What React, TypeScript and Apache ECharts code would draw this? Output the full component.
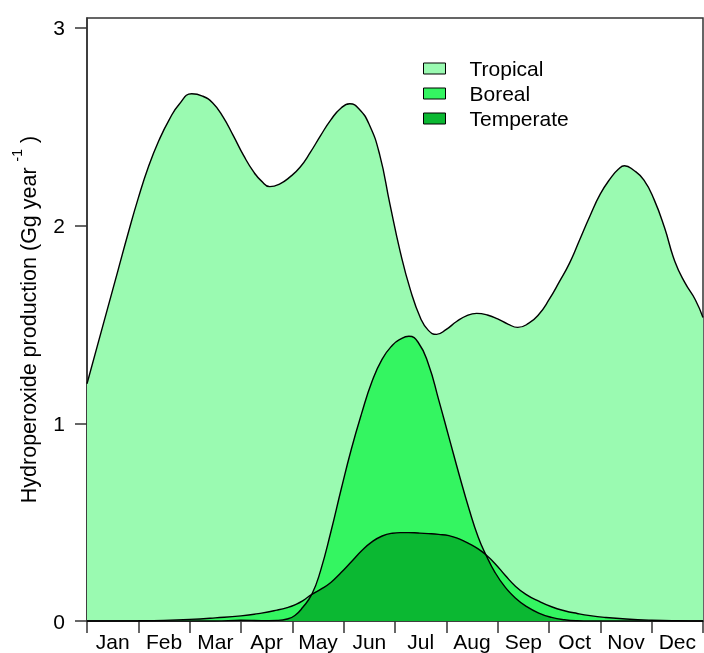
import React, { useEffect, useRef } from "react";
import * as echarts from "echarts";

const months = ["Jan", "Feb", "Mar", "Apr", "May", "Jun", "Jul", "Aug", "Sep", "Oct", "Nov", "Dec"];
const yTicks = [0, 1, 2, 3];

// month position (0 = start of Jan, 12 = end of Dec)
const tropicalX = [0, 0.2, 0.4, 0.6, 0.8, 1.0, 1.2, 1.4, 1.6, 1.8, 2.04, 2.25, 2.45, 2.65, 2.85, 3.05, 3.25, 3.4, 3.56, 3.75, 3.95, 4.15, 4.35, 4.55, 4.75, 4.95, 5.12, 5.3, 5.5, 5.7, 5.9, 6.1, 6.3, 6.5, 6.65, 6.81, 7.0, 7.2, 7.4, 7.59, 7.8, 8.0, 8.2, 8.39, 8.6, 8.8, 9.0, 9.2, 9.4, 9.6, 9.8, 10.0, 10.2, 10.35, 10.47, 10.65, 10.85, 11.05, 11.25, 11.45, 11.65, 11.85, 12.0];
const tropicalV = [1.2, 1.39, 1.58, 1.77, 1.96, 2.14, 2.3, 2.43, 2.535, 2.615, 2.667, 2.655, 2.62, 2.55, 2.455, 2.355, 2.27, 2.225, 2.197, 2.21, 2.245, 2.295, 2.37, 2.455, 2.535, 2.595, 2.616, 2.59, 2.51, 2.36, 2.11, 1.87, 1.675, 1.53, 1.47, 1.45, 1.475, 1.515, 1.545, 1.556, 1.548, 1.528, 1.502, 1.485, 1.505, 1.55, 1.625, 1.715, 1.81, 1.93, 2.05, 2.16, 2.24, 2.285, 2.303, 2.28, 2.23, 2.13, 1.99, 1.82, 1.71, 1.625, 1.535];

const extraX = [0, 1.0, 1.5, 2.0, 2.5, 3.0, 3.4, 3.7, 3.9, 4.05, 4.2, 4.38, 4.55, 4.75, 4.95, 5.15, 5.35, 5.55, 5.75, 5.95, 6.1, 6.27, 6.45, 6.65, 6.85, 7.05, 7.25, 7.45, 7.62, 7.77, 7.95, 8.15, 8.35, 8.55, 8.8, 9.05, 9.3, 9.55, 9.8, 10.1, 10.5, 11.0, 11.5, 12.0];
const borealV = [0, 0, 0, 0, 0, 0.004, 0.002, 0.003, 0.01, 0.028, 0.068, 0.135, 0.255, 0.45, 0.665, 0.87, 1.05, 1.21, 1.325, 1.395, 1.425, 1.44, 1.41, 1.3, 1.12, 0.93, 0.74, 0.56, 0.425, 0.335, 0.245, 0.17, 0.115, 0.075, 0.04, 0.018, 0.006, 0.001, 0, 0, 0, 0, 0, 0];
const temperateV = [0, 0.001, 0.003, 0.008, 0.016, 0.026, 0.04, 0.055, 0.068, 0.082, 0.102, 0.135, 0.16, 0.195, 0.245, 0.3, 0.355, 0.4, 0.43, 0.444, 0.447, 0.447, 0.445, 0.442, 0.438, 0.432, 0.415, 0.39, 0.365, 0.335, 0.29, 0.23, 0.175, 0.135, 0.1, 0.072, 0.052, 0.038, 0.027, 0.018, 0.01, 0.004, 0.001, 0];

const TROP = "#9afab1";
const BOR = "#34f561";
const TEMP = "#0bb832";
const FONT = "'Liberation Sans', Arial, sans-serif";

export default function App() {
  const ref = useRef<HTMLDivElement>(null);
  useEffect(() => {
    if (!ref.current) return;
    const chart = echarts.init(ref.current, undefined, { renderer: "svg" });
    const pairs = (xs: number[], vs: number[]) => xs.map((x, i) => [x, vs[i]]);
    const hi = extraX.map((x, i) => [x, Math.max(borealV[i], temperateV[i])]);
    const lo = extraX.map((x, i) => [x, Math.min(borealV[i], temperateV[i])]);
    const lineStyle = { color: "#000", width: 1.4 };
    const smooth = 0.5;
    chart.setOption({
      animation: false,
      textStyle: { fontFamily: FONT },
      grid: { left: 87, right: 1, top: 18, bottom: 32, show: true, borderColor: "#333", borderWidth: 1.5, backgroundColor: "transparent" },
      legend: {
        orient: "vertical",
        left: 423,
        top: 58,
        padding: 0,
        icon: "rect",
        itemWidth: 22,
        itemHeight: 11,
        itemGap: 4,
        selectedMode: false,
        itemStyle: { borderColor: "#000", borderWidth: 1 },
        textStyle: { fontSize: 21, color: "#000", fontFamily: FONT, lineHeight: 21, padding: [0, 0, 0, 19] },
        data: [
          { name: "Tropical", itemStyle: { color: TROP } },
          { name: "Boreal", itemStyle: { color: BOR } },
          { name: "Temperate", itemStyle: { color: TEMP } },
        ],
      },
      xAxis: [
        { type: "value", min: 0, max: 12, show: false },
        {
          type: "category",
          data: months,
          boundaryGap: true,
          position: "bottom",
          axisLine: { show: true, lineStyle: { color: "#333", width: 1.5 } },
          axisTick: { show: true, length: 12, alignWithLabel: false, lineStyle: { color: "#333", width: 1.5 } },
          axisLabel: { fontSize: 21, color: "#000", margin: 10, fontFamily: FONT, interval: 0 },
          splitLine: { show: false },
        },
      ],
      yAxis: {
        type: "value",
        min: 0,
        max: 3.05,
        interval: 1,
        axisLine: { show: true, lineStyle: { color: "#333", width: 1.5 } },
        axisTick: { show: true, length: 12, customValues: yTicks, lineStyle: { color: "#333", width: 1.5 } },
        axisLabel: {
          fontSize: 21,
          color: "#000",
          margin: 22,
          fontFamily: FONT,
          customValues: yTicks,
          formatter: (v: number) => (Math.abs(v - Math.round(v)) < 1e-6 ? String(Math.round(v)) : ""),
        },
        splitLine: { show: false },
        name: "{n|Hydroperoxide production (Gg year }{s|-1}{n| )}",
        nameLocation: "middle",
        nameRotate: 90,
        nameGap: 47,
        nameTextStyle: {
          color: "#000",
          fontFamily: FONT,
          rich: {
            n: { fontSize: 21.5, color: "#000", fontFamily: FONT, verticalAlign: "bottom", lineHeight: 30 },
            s: { fontSize: 14, color: "#000", fontFamily: FONT, verticalAlign: "top", lineHeight: 30 },
          },
        },
      },
      series: [
        {
          name: "Tropical",
          type: "line",
          xAxisIndex: 0,
          data: pairs(tropicalX, tropicalV),
          smooth,
          showSymbol: false,
          symbol: "none",
          itemStyle: { color: TROP },
          lineStyle,
          areaStyle: { color: TROP, opacity: 1 },
          silent: true,
          z: 2,
        },
        {
          name: "_bandHigh",
          type: "line",
          xAxisIndex: 0,
          data: hi,
          smooth,
          symbol: "none",
          lineStyle: { width: 0, opacity: 0 },
          areaStyle: { color: BOR, opacity: 1 },
          silent: true,
          z: 3,
        },
        {
          name: "_bandLow",
          type: "line",
          xAxisIndex: 0,
          data: lo,
          smooth,
          symbol: "none",
          lineStyle: { width: 0, opacity: 0 },
          areaStyle: { color: TEMP, opacity: 1 },
          silent: true,
          z: 4,
        },
        {
          name: "Boreal",
          type: "line",
          xAxisIndex: 0,
          data: pairs(extraX, borealV),
          smooth,
          symbol: "none",
          itemStyle: { color: BOR },
          lineStyle,
          silent: true,
          z: 5,
        },
        {
          name: "Temperate",
          type: "line",
          xAxisIndex: 0,
          data: pairs(extraX, temperateV),
          smooth,
          symbol: "none",
          itemStyle: { color: TEMP },
          lineStyle,
          silent: true,
          z: 5,
        },
      ],
    });
    return () => chart.dispose();
  }, []);
  return <div ref={ref} style={{ position: "fixed", left: 0, top: 0, width: 704, height: 653 }} />;
}
